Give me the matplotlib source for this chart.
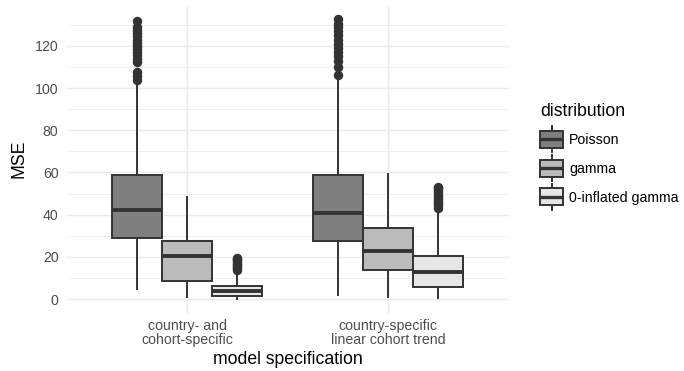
import matplotlib
matplotlib.use("Agg")
import matplotlib.pyplot as plt
from matplotlib.patches import Rectangle
from matplotlib.lines import Line2D
from matplotlib.legend_handler import HandlerBase
import numpy as np

# ---------------- data ----------------
categories = ["country- and\ncohort-specific", "country-specific\nlinear cohort trend"]
distributions = ["Poisson", "gamma", "0-inflated gamma"]
fill_colors = ["#7F7F7F", "#BBBBBB", "#E6E6E6"]

# per category -> per distribution
whislo = [[4.9, 0.8, 0.0], [2.1, 1.1, 0.5]]
q1 = [[29.1, 8.7, 1.4], [27.7, 13.9, 5.8]]
med = [[42.1, 20.2, 3.8], [40.8, 22.9, 12.7]]
q3 = [[58.8, 27.7, 6.2], [59.0, 33.7, 20.2]]
whishi = [[102.3, 48.5, 13.0], [105.8, 59.3, 41.3]]

outliers_c1_poisson = [103.9, 105.5, 107.5, 112.5, 114, 115.5, 117, 118.5, 120,
                       121.5, 123, 124.5, 126, 127.5, 129, 132.0]
outliers_c1_gamma = []
outliers_c1_zigamma = [13.8, 14.5, 15.2, 16.0, 16.8, 17.5, 18.3, 19.0, 19.6]
outliers_c2_poisson = [106.1, 110, 113, 115, 117, 119, 121, 123, 125, 127, 129,
                       130.5, 132.5]
outliers_c2_gamma = []
outliers_c2_zigamma = [43.2, 44.5, 45.5, 46.5, 47.5, 48.5, 49.5, 50.5, 51.5,
                       52.5, 53.3]
outliers = [[outliers_c1_poisson, outliers_c1_gamma, outliers_c1_zigamma],
            [outliers_c2_poisson, outliers_c2_gamma, outliers_c2_zigamma]]

x_title = "model specification"
y_title = "MSE"
legend_title = "distribution"
y_ticks = [0, 20, 40, 60, 80, 100, 120]

# ---------------- plot ----------------
plt.rcParams['font.family'] = ['Liberation Sans', 'DejaVu Sans']
W, H, DPI = 684, 371, 100
PX = 72.0 / DPI  # points per pixel
TICK_FS, TITLE_FS = 10.2, 12.7
fig = plt.figure(figsize=(W / DPI, H / DPI), dpi=DPI)
ax = fig.add_axes([66.5 / W, 1 - 313 / H, (508.5 - 66.5) / W, (313 - 5.5) / H])

line_col = "#333333"
box_w = 0.25
offsets = [-0.25, 0.0, 0.25]
for ci, cat in enumerate(categories):
    for di, dist in enumerate(distributions):
        st = dict(med=med[ci][di], q1=q1[ci][di], q3=q3[ci][di],
                  whislo=whislo[ci][di], whishi=whishi[ci][di],
                  fliers=outliers[ci][di])
        ax.bxp([st], positions=[ci + offsets[di]], widths=box_w,
               patch_artist=True, showcaps=False, zorder=3,
               boxprops=dict(facecolor=fill_colors[di], edgecolor=line_col, linewidth=1.4),
               medianprops=dict(color=line_col, linewidth=2.8, solid_capstyle='butt'),
               whiskerprops=dict(color=line_col, linewidth=1.4),
               flierprops=dict(marker='o', markerfacecolor=line_col,
                               markeredgecolor=line_col, markersize=5.8,
                               linestyle='none'))

all_vals = [v for c in range(2) for d in range(3) for v in outliers[c][d]] + \
           [v for row in whislo for v in row] + [v for row in whishi for v in row]
lo, hi = min(all_vals), max(all_vals)
rng = hi - lo
ax.set_ylim(lo - 0.05 * rng, hi + 0.05 * rng)
ax.set_xlim(-0.6, len(categories) - 1 + 0.6)

ax.set_xticks(range(len(categories)))
ax.set_xticklabels(categories, color="#4D4D4D", fontsize=TICK_FS, linespacing=1.0)
ax.set_yticks(y_ticks)
ax.set_yticklabels([str(t) for t in y_ticks], color="#4D4D4D", fontsize=TICK_FS)
ax.set_yticks(np.arange(10, hi + 0.05 * rng, 20), minor=True)
ax.tick_params(axis='both', which='both', length=0)
ax.tick_params(axis='y', pad=5.8)
ax.tick_params(axis='x', pad=4.5)

ax.grid(True, which='major', color="#EBEBEB", linewidth=1.07, zorder=0)
ax.grid(True, which='minor', axis='y', color="#EBEBEB", linewidth=0.55, zorder=0)
ax.set_axisbelow(True)
for s in ax.spines.values():
    s.set_visible(False)

ax.set_xlabel(x_title, fontsize=TITLE_FS, color="black", labelpad=3.0)
ax.set_ylabel(y_title, fontsize=TITLE_FS, color="black", labelpad=5.0)


# legend with mini boxplot keys (geometry in points)
KEY_W, BOX_H, WHISK_H = 23 * PX, 17 * PX, 26 * PX


class BoxHandler(HandlerBase):
    def create_artists(self, legend, orig_handle, xdescent, ydescent, width,
                       height, fontsize, trans):
        fc = orig_handle.get_facecolor()
        x0 = -xdescent
        cy = 0.36 * fontsize
        cx = x0 + KEY_W / 2
        wl = Line2D([cx, cx], [cy - WHISK_H / 2, cy + WHISK_H / 2], color=line_col,
                    linewidth=1.4, transform=trans)
        r = Rectangle((x0, cy - BOX_H / 2), KEY_W, BOX_H, facecolor=fc,
                      edgecolor=line_col, linewidth=1.4, transform=trans)
        m = Line2D([x0, x0 + KEY_W], [cy, cy], color=line_col,
                   linewidth=2.4, transform=trans, solid_capstyle='butt')
        return [wl, r, m]


handles = [Rectangle((0, 0), 1, 1, facecolor=c) for c in fill_colors]
leg = fig.legend(handles, distributions, handler_map={Rectangle: BoxHandler()},
                 loc='upper left', bbox_to_anchor=(540 / W, 1 - 103 / H),
                 frameon=False, fontsize=TICK_FS, title=legend_title,
                 title_fontsize=TITLE_FS, handlelength=KEY_W / TICK_FS,
                 handleheight=1.0, labelspacing=1.04, handletextpad=0.42,
                 borderpad=0, borderaxespad=0)
leg._legend_box.align = "left"
leg._legend_box.sep = 13 * PX

fig.savefig("out.png", dpi=DPI)
